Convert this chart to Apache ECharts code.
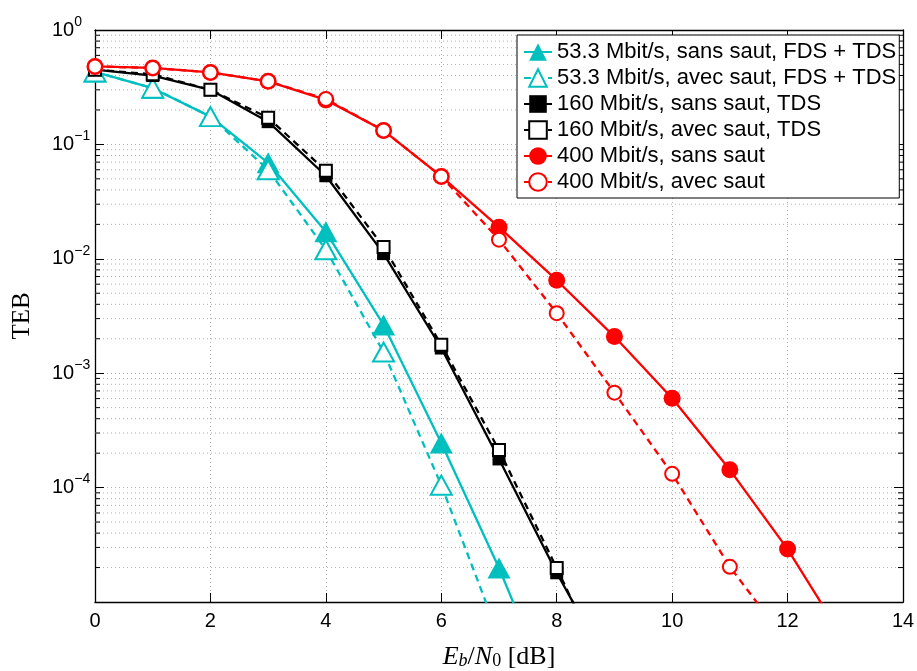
<!DOCTYPE html>
<html>
<head>
<meta charset="utf-8">
<script src="https://cdn.jsdelivr.net/npm/echarts@6/dist/echarts.min.js"></script>
<style>
  html, body { margin: 0; padding: 0; background: #fff; }
  #chart { width: 917px; height: 671px; }
</style>
</head>
<body>
<div id="chart"></div>
<script>
// Eb/N0 en dB
const ebn0 = [0, 1, 2, 3, 4, 5, 6, 7, 8, 9, 10, 11, 12, 13];

// TEB
const teb53Sans = [0.43, 0.31, 0.175, 0.069, 0.0172, 0.00264, 2.45e-4, 1.98e-5, 1.2e-6];
const teb53Avec = [0.43, 0.31, 0.175, 0.060, 0.0120, 0.00153, 1.05e-4, 5e-6];
const teb160Sans = [0.45, 0.40, 0.30, 0.158, 0.0532, 0.0111, 1.66e-3, 1.78e-4, 1.8e-5, 2.2e-6];
const teb160Avec = [0.45, 0.41, 0.30, 0.171, 0.0589, 0.0127, 1.77e-3, 2.13e-4, 1.98e-5, 1.7e-6];
const teb400Sans = [0.48, 0.466, 0.426, 0.356, 0.245, 0.132, 0.0525, 0.0189, 6.5e-3, 2.09e-3, 6.04e-4, 1.43e-4, 2.9e-5, 4.5e-6];
const teb400Avec = [0.48, 0.466, 0.426, 0.356, 0.249, 0.132, 0.0525, 0.0147, 3.35e-3, 6.76e-4, 1.32e-4, 2.03e-5, 4.4e-6];

const seriesNames = [
  '53.3 Mbit/s, sans saut, FDS + TDS',
  '53.3 Mbit/s, avec saut, FDS + TDS',
  '160 Mbit/s, sans saut, TDS',
  '160 Mbit/s, avec saut, TDS',
  '400 Mbit/s, sans saut',
  '400 Mbit/s, avec saut'
];

// graduations mineures de l'axe log (2..9 x 10^k)
const minorTicks = [];
for (let k = -5; k <= -1; k++) {
  for (let m = 2; m <= 9; m++) minorTicks.push(m * Math.pow(10, k));
}

const CYAN = '#00bfbf';
const RED = '#ff0000';
const BLACK = '#000000';
const FONT = 'Liberation Sans';

function pts(ys) {
  return ys.map((y, i) => [ebn0[i], y]);
}

function curve(name, ys, color, symbol, size, dashed) {
  return {
    name: name,
    type: 'line',
    data: pts(ys),
    symbol: symbol,
    symbolSize: size,
    showAllSymbol: true,
    clip: true,
    lineStyle: { color: color, width: 2.3, type: dashed ? [7, 5] : 'solid' },
    itemStyle: { color: color, borderColor: color, borderWidth: symbol.indexOf('empty') === 0 ? 2.2 : 0 },
    emphasis: { disabled: true },
    z: 3
  };
}

const chart = echarts.init(document.getElementById('chart'), null, { renderer: 'canvas' });

const option = {
  animation: false,
  backgroundColor: '#fff',
  grid: { left: 95, right: 14, top: 30, bottom: 69, containLabel: false, outerBoundsMode: 'none' },
  legend: {
    orient: 'vertical',
    left: 517,
    top: 35,
    backgroundColor: '#fff',
    borderColor: '#000',
    borderWidth: 1,
    borderRadius: 0,
    padding: [6, 3, 5, 6],
    itemWidth: 28,
    itemHeight: 22,
    itemGap: 4,
    textStyle: { fontSize: 22, fontFamily: FONT, color: '#000', lineHeight: 22 },
    data: seriesNames,
    selectedMode: false
  },
  xAxis: [{
    type: 'value',
    min: 0,
    max: 14,
    interval: 2,
    name: '{i|E}{si|b}{n|/}{i|N}{sub|0}{n| [dB]}',
    nameLocation: 'middle',
    nameGap: 42,
    nameTextStyle: {
      rich: {
        i: { fontFamily: 'Liberation Serif', fontStyle: 'italic', fontSize: 26, color: '#000' },
        n: { fontFamily: 'Liberation Serif', fontSize: 26, color: '#000' },
        si: { fontFamily: 'Liberation Serif', fontStyle: 'italic', fontSize: 18, color: '#000', verticalAlign: 'bottom', padding: [8, 0, 0, 0] },
        sub: { fontFamily: 'Liberation Serif', fontSize: 18, color: '#000', verticalAlign: 'bottom', padding: [8, 0, 0, 0] }
      }
    },
    axisLine: { show: true, onZero: false, lineStyle: { color: '#000', width: 1.3 } },
    axisTick: { show: true, inside: true, length: 9, lineStyle: { color: '#000' } },
    axisLabel: { fontSize: 20, fontFamily: FONT, color: '#000', margin: 9 },
    splitLine: { show: true, lineStyle: { color: '#b0b0b0', width: 1, type: [1, 3] } }
  }, {
    type: 'value',
    position: 'top',
    min: 0,
    max: 14,
    interval: 2,
    axisLine: { show: true, onZero: false, lineStyle: { color: '#000', width: 1.3 } },
    axisTick: { show: true, inside: true, length: 9, lineStyle: { color: '#000' } },
    axisLabel: { show: false },
    splitLine: { show: false }
  }],
  yAxis: [{
    type: 'log',
    logBase: 10,
    min: 1e-5,
    max: 1,
    splitNumber: 5,
    name: 'TEB',
    nameLocation: 'middle',
    nameGap: 60,
    nameRotate: 90,
    nameTextStyle: { fontFamily: 'Liberation Serif', fontSize: 25, color: '#000' },
    axisLine: { show: true, onZero: false, lineStyle: { color: '#000', width: 1.3 } },
    axisTick: { show: true, inside: true, length: 9, lineStyle: { color: '#000' } },
    axisLabel: {
      margin: 43,
      align: 'left',
      formatter: function (v) {
        const e = Math.round(Math.log10(v));
        if (e <= -5) return '';
        return '{b|10}{s|' + (e < 0 ? '\u2212' + (-e) : e) + '}';
      },
      rich: {
        b: { fontSize: 20, fontFamily: FONT, color: '#000', lineHeight: 30 },
        s: { fontSize: 14, fontFamily: FONT, color: '#000', lineHeight: 14, verticalAlign: 'top' }
      }
    },
    splitLine: { show: true, lineStyle: { color: '#b0b0b0', width: 1, type: [1, 3] } }
  }, {
    type: 'log',
    logBase: 10,
    min: 1e-5,
    max: 1,
    splitNumber: 5,
    position: 'right',
    axisLine: { show: true, onZero: false, lineStyle: { color: '#000', width: 1.3 } },
    axisTick: { show: true, inside: true, length: 9, lineStyle: { color: '#000' } },
    axisLabel: { show: false },
    splitLine: { show: false }
  }],
  series: [
    {
      type: 'custom',
      name: 'grille',
      silent: true,
      z: 1,
      xAxisIndex: 0,
      yAxisIndex: 0,
      data: minorTicks.map(v => [0, v]),
      renderItem: function (params, api) {
        const v = api.value(1);
        const p0 = api.coord([0, v]);
        const p1 = api.coord([14, v]);
        return {
          type: 'group',
          children: [
            { type: 'line', shape: { x1: p0[0], y1: p0[1], x2: p1[0], y2: p1[1] }, style: { stroke: '#b0b0b0', lineWidth: 1, lineDash: [1, 3] } },
            { type: 'line', shape: { x1: p0[0], y1: p0[1], x2: p0[0] + 5, y2: p0[1] }, style: { stroke: '#000', lineWidth: 1 } },
            { type: 'line', shape: { x1: p1[0] - 5, y1: p1[1], x2: p1[0], y2: p1[1] }, style: { stroke: '#000', lineWidth: 1 } }
          ]
        };
      }
    },
    curve(seriesNames[0], teb53Sans, CYAN, 'triangle', [23, 21], false),
    curve(seriesNames[1], teb53Avec, CYAN, 'emptyTriangle', [21, 19], true),
    curve(seriesNames[2], teb160Sans, BLACK, 'rect', 13, false),
    curve(seriesNames[3], teb160Avec, BLACK, 'emptyRect', 12, true),
    curve(seriesNames[4], teb400Sans, RED, 'circle', 17, false),
    curve(seriesNames[5], teb400Avec, RED, 'emptyCircle', 14, true)
  ]
};

chart.setOption(option);
</script>
</body>
</html>
